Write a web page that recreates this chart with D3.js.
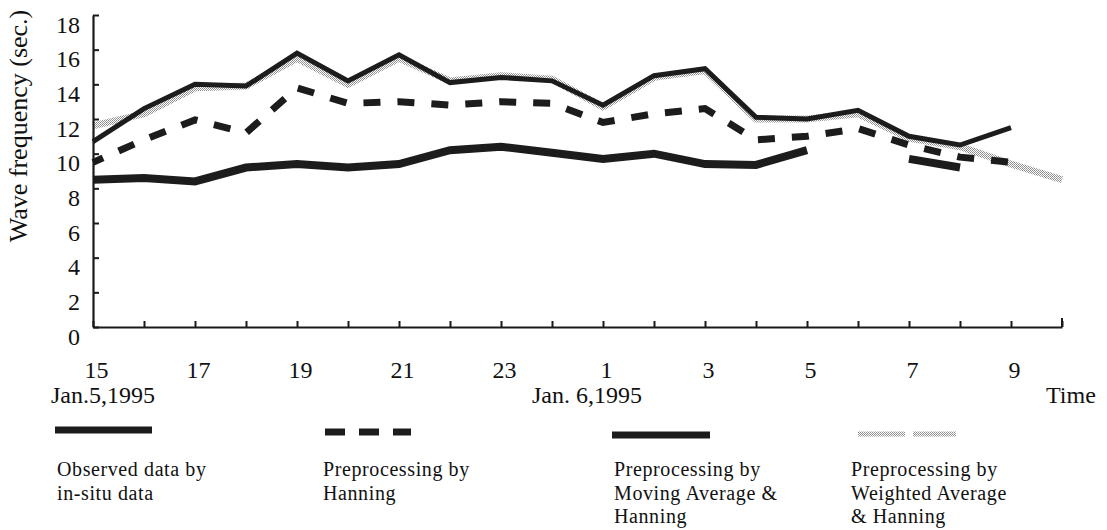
<!DOCTYPE html>
<html>
<head>
<meta charset="utf-8">
<script src="https://cdn.jsdelivr.net/npm/d3@7"></script>
<style>
  body { margin: 0; background: #fff; }
  svg { display: block; }
  svg text { font-family: 'Liberation Serif', 'Times New Roman', serif; }
  .domain { stroke: #1a1a1a; stroke-width: 2.2; }
  .tick line { stroke: #1a1a1a; stroke-width: 2; }
  .tick text { fill: #111; }
</style>
</head>
<body>
<svg id="chart" width="1107" height="530"></svg>
<script>
/* hour ticks: 15h Jan 5 through 10h Jan 6 */
const hourLabels = ['15', '', '17', '', '19', '', '21', '', '23', '', '1', '', '3', '', '5', '', '7', '', '9', ''];
const yTicks = [0, 2, 4, 6, 8, 10, 12, 14, 16, 18];

// wave frequency (sec.) per hour, null = no line drawn
const observed   = [8.5, 8.6, 8.4, 9.2, 9.4, 9.2, 9.4, 10.2, 10.4, 10.05, 9.7, 10.0, 9.4, 9.35, 10.2, null, 9.7, 9.2, null, null];
const hanning    = [9.5, 10.8, 11.95, 11.2, 13.8, 12.9, 13.0, 12.8, 13.0, 12.9, 11.8, 12.3, 12.6, 10.8, 11.0, 11.45, 10.5, 9.8, 9.5, null];
const movingAvg  = [10.7, 12.6, 14.0, 13.9, 15.8, 14.2, 15.7, 14.1, 14.4, 14.2, 12.8, 14.5, 14.9, 12.1, 12.0, 12.5, 11.0, 10.5, 11.5, null];
const weightedAvg = [11.6, 12.3, 13.8, 13.9, 15.5, 14.0, 15.5, 14.2, 14.5, 14.3, 12.7, 14.4, 14.8, 12.0, 12.0, 12.3, 10.9, 10.4, 9.4, 8.5];

const legendNames = [
  ['Observed data by', 'in-situ data'],
  ['Preprocessing by', 'Hanning'],
  ['Preprocessing by', 'Moving Average &', 'Hanning'],
  ['Preprocessing by', 'Weighted Average', '& Hanning']
];

const svg = d3.select('#chart');

const defs = svg.append('defs');
const pat = defs.append('pattern')
  .attr('id', 'stipple')
  .attr('patternUnits', 'userSpaceOnUse')
  .attr('width', 2).attr('height', 2);
pat.append('rect').attr('width', 1).attr('height', 1).attr('fill', '#8a8a8a');
pat.append('rect').attr('x', 1).attr('y', 1).attr('width', 1).attr('height', 1).attr('fill', '#9a9a9a');

const xScale = d3.scaleLinear().domain([0, 19]).range([93, 1062]);
const yScale = d3.scaleLinear().domain([0, 18]).range([327, 15]);

// series styles (drawn back to front)
const series = [
  { values: weightedAvg, stroke: 'url(#stipple)', width: 7, dash: null },
  { values: movingAvg, stroke: '#1c1c1c', width: 5, dash: null },
  { values: hanning, stroke: '#1c1c1c', width: 7, dash: '17,17' },
  { values: observed, stroke: '#1c1c1c', width: 8, dash: null }
];

const lineGenerator = d3.line()
  .defined(d => d != null)
  .x((d, i) => xScale(i))
  .y(d => yScale(d));

svg.append('g').selectAll('path')
  .data(series)
  .enter().append('path')
  .attr('d', d => lineGenerator(d.values))
  .attr('fill', 'none')
  .attr('stroke', d => d.stroke)
  .attr('stroke-width', d => d.width)
  .attr('stroke-dasharray', d => d.dash)
  .attr('stroke-dashoffset', 6)
  .attr('stroke-linejoin', 'miter');

// axes
const yAxis = d3.axisLeft(yScale)
  .tickValues(yTicks)
  .tickSizeInner(-6)
  .tickSizeOuter(0)
  .tickPadding(13);

const yAxisG = svg.append('g')
  .attr('transform', `translate(${xScale(0)},0)`)
  .call(yAxis)
  .attr('font-family', null);
yAxisG.selectAll('.tick text')
  .attr('dy', 17)
  .style('font-size', '24px');

const xAxis = d3.axisBottom(xScale)
  .tickValues(d3.range(0, 20))
  .tickFormat(i => hourLabels[i])
  .tickSizeInner(-6)
  .tickSizeOuter(0);

const xAxisG = svg.append('g')
  .attr('transform', `translate(0,${yScale(0)})`)
  .call(xAxis)
  .attr('font-family', null);
xAxisG.selectAll('.tick text')
  .attr('y', 51)
  .attr('dy', 0)
  .attr('x', 3)
  .style('font-size', '24px');
xAxisG.append('line')
  .attr('x1', xScale(19)).attr('x2', xScale(19))
  .attr('y1', 0).attr('y2', -9)
  .attr('stroke', '#1a1a1a').attr('stroke-width', 2);

// axis texts
svg.append('text')
  .attr('transform', 'translate(27,126) rotate(-90)')
  .attr('text-anchor', 'middle')
  .style('font-size', '26px')
  .attr('fill', '#111')
  .text('Wave frequency (sec.)');

const dateRow = [['Jan.5,1995', 51], ['Jan. 6,1995', 532], ['Time', 1046]];
svg.append('g').selectAll('text')
  .data(dateRow)
  .enter().append('text')
  .attr('x', d => d[1])
  .attr('y', 403)
  .style('font-size', '24px')
  .attr('fill', '#111')
  .text(d => d[0]);

// legend
const legendPos = [
  { x1: 55, x2: 152, y: 430, tx: 57 },
  { x1: 325, x2: 411, y: 432, tx: 323 },
  { x1: 612, x2: 710, y: 435, tx: 614 },
  { x1: 858, x2: 956, y: 434, tx: 851 }
];
const legendStyle = [
  { stroke: '#1c1c1c', width: 7, dash: null },
  { stroke: '#1c1c1c', width: 7, dash: '20,14' },
  { stroke: '#1c1c1c', width: 7, dash: null },
  { stroke: 'url(#stipple)', width: 5, dash: '47,8' }
];

const legend = svg.append('g').selectAll('g')
  .data(legendNames)
  .enter().append('g');

legend.append('line')
  .attr('x1', (d, i) => legendPos[i].x1)
  .attr('x2', (d, i) => legendPos[i].x2)
  .attr('y1', (d, i) => legendPos[i].y)
  .attr('y2', (d, i) => legendPos[i].y)
  .attr('stroke', (d, i) => legendStyle[i].stroke)
  .attr('stroke-width', (d, i) => legendStyle[i].width)
  .attr('stroke-dasharray', (d, i) => legendStyle[i].dash);

legend.each(function(lines, i) {
  d3.select(this).selectAll('text')
    .data(lines)
    .enter().append('text')
    .attr('x', legendPos[i].tx)
    .attr('y', (t, j) => 476 + j * 23.5)
    .style('font-size', '20px')
    .style('letter-spacing', '0.6px')
    .attr('fill', '#111')
    .text(t => t);
});
</script>
</body>
</html>
